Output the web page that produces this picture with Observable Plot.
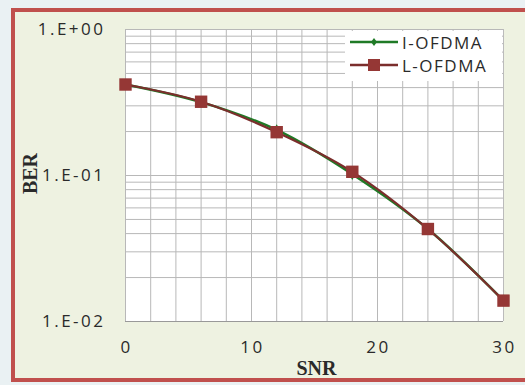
<!DOCTYPE html>
<html>
<head>
<meta charset="utf-8">
<script src="https://cdn.jsdelivr.net/npm/d3@7"></script>
<script src="https://cdn.jsdelivr.net/npm/@observablehq/plot@0.6"></script>
<style>
  html, body { margin: 0; padding: 0; }
  body { width: 525px; height: 385px; background: #eaf1f3; position: relative; overflow: hidden; }
  #panel { position: absolute; left: 11px; top: 8px; width: 520px; height: 374px; border: 4px solid #c0504d; border-right: none; background: #eef2e1; box-sizing: border-box; }
  #chart { position: absolute; left: 0; top: 0; }
  #chart g[aria-label="x-axis tick label"] text, #chart g[aria-label="y-axis tick label"] text { letter-spacing: 2.5px; }
  #legend { position: absolute; left: 345px; top: 31px; width: 157px; height: 50px; background: #fff; font-family: "Open Sans", sans-serif; font-size: 17px; letter-spacing: 1.5px; color: #2a2a2a; }
  #legend .row { position: absolute; left: 4px; height: 20px; display: flex; align-items: center; }
  #legend svg { margin-right: 3px; }
</style>
</head>
<body>
<div id="panel"></div>
<div id="chart"></div>
<div id="legend"></div>
<script>
const snr = [0, 6, 12, 18, 24, 30];
const berI = [0.42, 0.318, 0.205, 0.102, 0.043, 0.0139];
const berL = [0.42, 0.32, 0.198, 0.106, 0.043, 0.0139];
const seriesNames = ["I-OFDMA", "L-OFDMA"];
const xTicks = [0, 10, 20, 30];
const yTicks = [1, 0.1, 0.01];
const xGrid = d3.range(0, 31, 2);
const yGrid = [0.01, 0.02, 0.03, 0.04, 0.05, 0.06, 0.07, 0.08, 0.09, 0.1, 0.2, 0.3, 0.4, 0.5, 0.6, 0.7, 0.8, 0.9, 1];

const green = "#1f7a26";
const red = "#953735";
const redLine = "#7b2e2c";

const dataI = snr.map((x, i) => ({x, y: berI[i]}));
const dataL = snr.map((x, i) => ({x, y: berL[i]}));

const fmt = v => "1.E" + (Math.log10(v) >= 0 ? "+" : "-") + String(Math.abs(Math.round(Math.log10(v)))).padStart(2, "0");

const chart = Plot.plot({
  width: 525,
  height: 385,
  marginLeft: 125,
  marginRight: 22,
  marginTop: 29,
  marginBottom: 64,
  style: { background: "transparent", fontFamily: "Open Sans, sans-serif", fontSize: "17px", color: "#2a2a2a" },
  x: { domain: [0, 30] },
  y: { type: "log", domain: [0.01, 1] },
  marks: [
    Plot.frame({ fill: "white", stroke: "none" }),
    Plot.ruleY(yGrid, { stroke: "#b8b8b8", strokeWidth: 1 }),
    Plot.ruleX(xGrid, { stroke: "#b8b8b8", strokeWidth: 1 }),
    Plot.ruleY([0.01], { stroke: "#999", strokeWidth: 1.2 }),
    Plot.ruleX([30], { stroke: "#bbb" }),
    Plot.line(dataI, { x: "x", y: "y", stroke: green, strokeWidth: 2.5, curve: "catmull-rom" }),
    Plot.line(dataL, { x: "x", y: "y", stroke: redLine, strokeWidth: 2.2, curve: "catmull-rom" }),
    Plot.dot(dataI, { x: "x", y: "y", symbol: "diamond", r: 3.5, fill: green, stroke: "none" }),
    Plot.dot(dataL, { x: "x", y: "y", symbol: "square", r: 7, fill: red, stroke: "none" }),
    Plot.axisX({ ticks: xTicks, tickSize: 0, tickPadding: 19, dx: 1, label: null, fontSize: 17 }),
    Plot.axisY({ ticks: yTicks, tickSize: 0, tickPadding: 20, tickFormat: fmt, label: null, fontSize: 17 }),
    Plot.text(["SNR"], { frameAnchor: "bottom", lineAnchor: "middle", textAnchor: "middle", dx: 2, dy: 47, text: d => d, fontFamily: "Liberation Serif, serif", fontWeight: "bold", fontSize: 20, letterSpacing: 3, fill: "#2a2a2a" }),
    Plot.text(["BER"], { frameAnchor: "left", textAnchor: "middle", lineAnchor: "middle", dx: -95, dy: -2, rotate: -90, text: d => d, fontFamily: "Liberation Serif, serif", fontWeight: "bold", fontSize: 20, letterSpacing: 1.5, fill: "#2a2a2a" })
  ]
});
document.getElementById("chart").appendChild(chart);

// legend
const legend = document.getElementById("legend");
const specs = [
  { name: seriesNames[0], color: green, line: green, sym: "diamond" },
  { name: seriesNames[1], color: red, line: redLine, sym: "square" }
];
specs.forEach((s, i) => {
  const row = document.createElement("div");
  row.className = "row";
  row.style.top = (1 + i * 23) + "px";
  const ns = "http://www.w3.org/2000/svg";
  const svg = document.createElementNS(ns, "svg");
  svg.setAttribute("width", 50); svg.setAttribute("height", 16);
  const ln = document.createElementNS(ns, "line");
  ln.setAttribute("x1", 1); ln.setAttribute("x2", 49); ln.setAttribute("y1", 8); ln.setAttribute("y2", 8);
  ln.setAttribute("stroke", s.line); ln.setAttribute("stroke-width", 2.5);
  svg.appendChild(ln);
  const m = document.createElementNS(ns, "path");
  if (s.sym === "diamond") {
    m.setAttribute("d", "M25,4L28,8L25,12L22,8Z");
  } else {
    m.setAttribute("d", "M19,2h12v12h-12Z");
  }
  m.setAttribute("fill", s.color);
  svg.appendChild(m);
  row.appendChild(svg);
  const t = document.createElement("span");
  t.textContent = s.name;
  row.appendChild(t);
  legend.appendChild(row);
});
</script>
</body>
</html>
